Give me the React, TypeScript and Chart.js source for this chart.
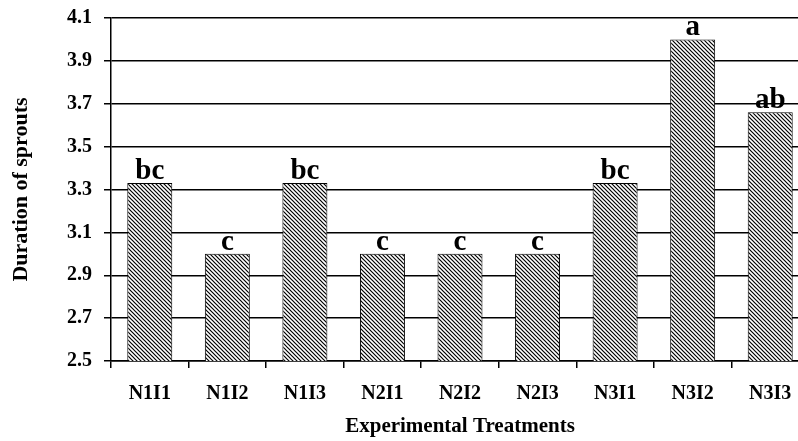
import React, { useEffect, useRef } from "react";
import { Chart, registerables } from "chart.js";

Chart.register(...registerables);

const categories = ["N1I1", "N1I2", "N1I3", "N2I1", "N2I2", "N2I3", "N3I1", "N3I2", "N3I3"];
const durationValues = [3.33, 3.0, 3.33, 3.0, 3.0, 3.0, 3.33, 4.0, 3.66];
const significanceLetters = ["bc", "c", "bc", "c", "c", "c", "bc", "a", "ab"];
const yMin = 2.5;
const yMax = 4.1;
const yStep = 0.2;
const xTitle = "Experimental Treatments";
const yTitle = "Duration of sprouts";

const FONT = "'Liberation Serif', 'Times New Roman', serif";

function makeHatch(): CanvasPattern | string {
  const c = document.createElement("canvas");
  c.width = 4;
  c.height = 4;
  const ctx = c.getContext("2d");
  if (!ctx) return "#888";
  ctx.fillStyle = "#fff";
  ctx.fillRect(0, 0, 4, 4);
  ctx.strokeStyle = "#000";
  ctx.lineWidth = 1.2;
  ctx.beginPath();
  ctx.moveTo(-1, -1);
  ctx.lineTo(5, 5);
  ctx.moveTo(-1, 3);
  ctx.lineTo(1, 5);
  ctx.moveTo(3, -1);
  ctx.lineTo(5, 1);
  ctx.stroke();
  return ctx.createPattern(c, "repeat") || "#888";
}

const letterPlugin = {
  id: "letters",
  afterDatasetsDraw(chart: any) {
    const ctx = chart.ctx;
    const meta = chart.getDatasetMeta(0);
    ctx.save();
    ctx.font = `bold 29px ${FONT}`;
    ctx.fillStyle = "#000";
    ctx.textAlign = "center";
    ctx.textBaseline = "alphabetic";
    meta.data.forEach((bar: any, i: number) => {
      ctx.fillText(significanceLetters[i], bar.x, bar.y - 4);
    });
    ctx.restore();
  },
};

export default function App() {
  const ref = useRef<HTMLCanvasElement | null>(null);

  useEffect(() => {
    if (!ref.current) return;
    Chart.defaults.color = "#000";
    const chart = new Chart(ref.current, {
      type: "bar",
      data: {
        labels: categories,
        datasets: [
          {
            data: durationValues,
            backgroundColor: makeHatch() as any,
            borderColor: "#000",
            borderWidth: 1,
            categoryPercentage: 1,
            barPercentage: 0.58,
          },
        ],
      },
      options: {
        responsive: false,
        animation: false,
        layout: { padding: { top: 18, left: 0, right: 0, bottom: 0 } },
        plugins: { legend: { display: false }, tooltip: { enabled: false } },
        scales: {
          x: {
            afterFit: (s: any) => {
              s.height = 80;
              s.paddingLeft = 0;
              s.paddingRight = 0;
            },
            grid: {
              drawOnChartArea: false,
              drawTicks: true,
              tickLength: 7,
              color: "#000",
              lineWidth: 1.5,
              offset: true,
            },
            border: { display: true, color: "#000", width: 1.5 },
            ticks: {
              padding: 14,
              color: "#000",
              font: { family: FONT, size: 20, weight: "bold" },
            },
            title: {
              display: true,
              text: xTitle,
              color: "#000",
              padding: { top: 0, bottom: 2 },
              font: { family: FONT, size: 21, weight: "bold" },
            },
          },
          y: {
            min: yMin,
            max: yMax,
            afterFit: (s: any) => {
              s.width = 111;
              s.paddingTop = 0;
              s.paddingBottom = 0;
            },
            grid: {
              drawOnChartArea: true,
              drawTicks: true,
              tickLength: 7,
              color: "#000",
              lineWidth: 1.5,
            },
            border: { display: true, color: "#000", width: 1.5 },
            ticks: {
              stepSize: yStep,
              padding: 12,
              color: "#000",
              font: { family: FONT, size: 20, weight: "bold" },
              callback: (v: any) => Number(v).toFixed(1),
            },
            title: {
              display: true,
              text: yTitle,
              color: "#000",
              padding: { top: 8, bottom: 0 },
              font: { family: FONT, size: 22, weight: "bold" },
            },
          },
        },
      },
      plugins: [letterPlugin],
    });
    return () => chart.destroy();
  }, []);

  return (
    <div
      style={{
        position: "fixed",
        left: 0,
        top: 0,
        width: 798,
        height: 441,
        overflow: "hidden",
        background: "#fff",
      }}
    >
      <canvas
        ref={ref}
        width={809}
        height={441}
        style={{ width: 809, height: 441, display: "block" }}
      />
    </div>
  );
}
